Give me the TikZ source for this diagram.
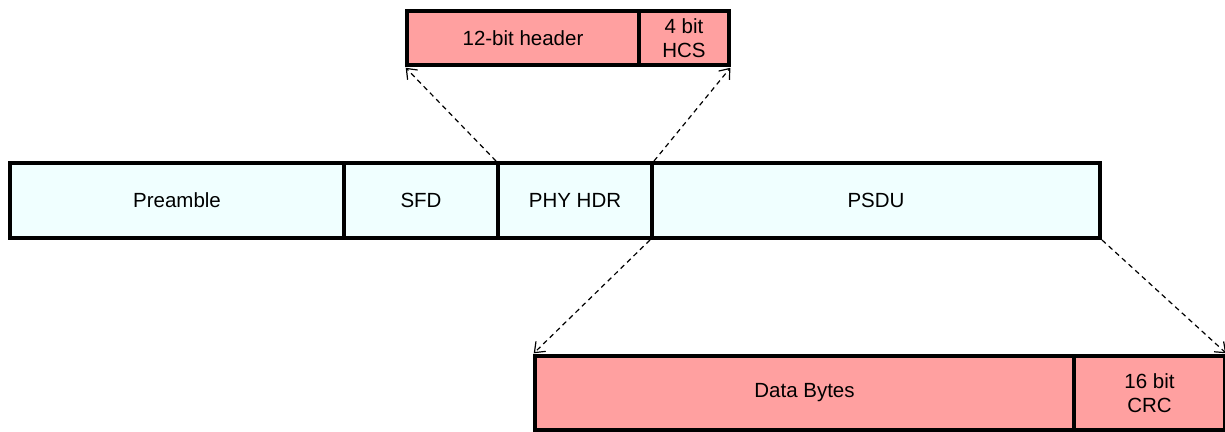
\documentclass[tikz,border=0pt]{standalone}
\usepackage{fontspec}
\setmainfont{Liberation Sans}
\usetikzlibrary{arrows.meta}
\definecolor{cellcyan}{HTML}{F0FFFF}
\definecolor{cellpink}{HTML}{FFA0A0}
\begin{document}
\begin{tikzpicture}[x=1pt,y=-1pt,
  cell/.style={draw=black, line width=4pt, anchor=north west, inner sep=0pt,
    align=center, font=\fontsize{20.5}{24}\selectfont},
  blue cell/.style={cell, fill=cellcyan},
  pink cell/.style={cell, fill=cellpink},
  zoomline/.style={line width=1.2pt, dash pattern=on 5pt off 4pt,
    -{Straight Barb[length=9pt,width=14pt,line width=1.2pt]}, shorten >=1pt}
]
\useasboundingbox (0,0) rectangle (1225,431);
% middle row
\node[blue cell, minimum width=334pt, minimum height=75pt] (pre) at (8,161) {Preamble};
\node[blue cell, minimum width=154pt, minimum height=75pt] (sfd) at (342,161) {SFD};
\node[blue cell, minimum width=154pt, minimum height=75pt] (phy) at (496,161) {PHY HDR};
\node[blue cell, minimum width=448pt, minimum height=75pt] (psdu) at (650,161) {PSDU};
% top row
\node[pink cell, minimum width=232pt, minimum height=54pt] (hdr) at (405,9) {12-bit header};
\node[pink cell, minimum width=90pt, minimum height=54pt] (hcs) at (637,9) {4 bit\\HCS};
% bottom row
\node[pink cell, minimum width=539pt, minimum height=74pt] (data) at (533,354) {Data Bytes};
\node[pink cell, minimum width=151pt, minimum height=74pt] (crc) at (1072,354) {16 bit\\CRC};
% zoom connectors
\draw[zoomline] (phy.north west) -- (hdr.south west);
\draw[zoomline] (phy.north east) -- (hcs.south east);
\draw[zoomline] (psdu.south west) -- (data.north west);
\draw[zoomline] (psdu.south east) -- (crc.north east);
\end{tikzpicture}
\end{document}
